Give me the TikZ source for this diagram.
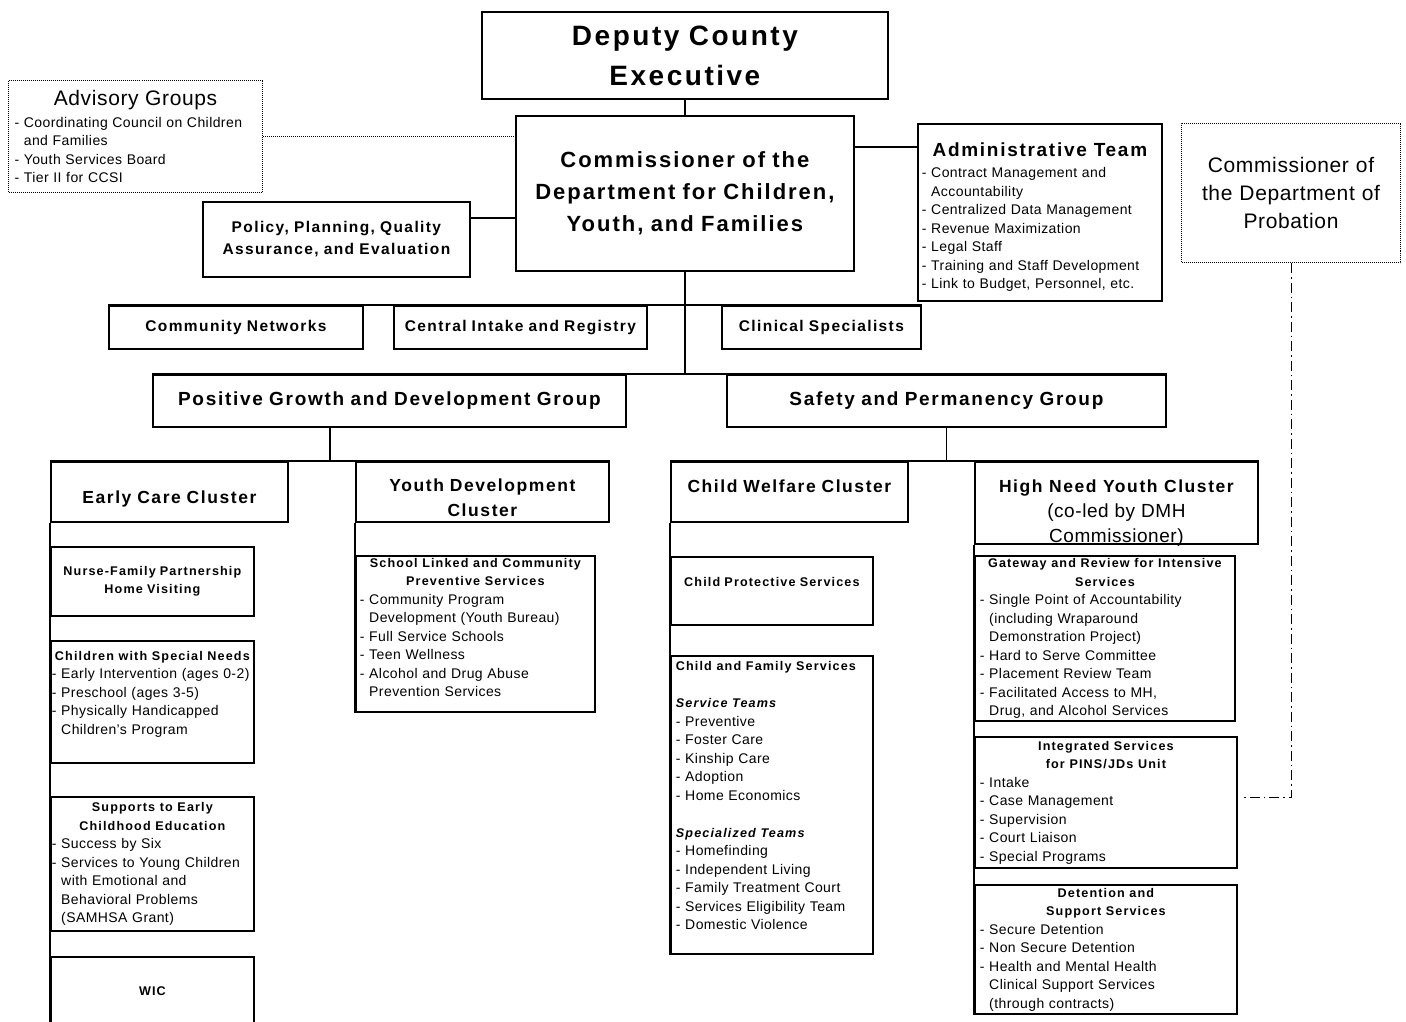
\documentclass[tikz,border=0pt]{standalone}
\usepackage{fontspec}
\setmainfont{Liberation Sans}[LetterSpace=3]
\newfontfamily\heavyfont{Liberation Sans}[LetterSpace=9]
\usetikzlibrary{positioning, calc}

\newcommand{\midline}[1]{\hspace*{\fill}{\spaceskip=0pt #1}\hspace*{\fill}\null}
\newcommand{\cont}{\phantom{- }}
\newcommand{\bodyfont}{\normalfont\fontsize{14}{18.5}\selectfont}
\newcommand{\subttl}{\heavyfont\bfseries\fontsize{12.6}{18.5}\selectfont}

\tikzset{
	unit/.style={draw, line width=1.8pt, anchor=north west, inner xsep=3pt, inner ysep=0pt, align=center, font=\heavyfont\bfseries},
	listunit/.style={unit, align=left, font=\bodyfont},
	advisory/.style={draw, densely dotted, line width=1pt, anchor=north west, inner xsep=6pt, inner ysep=0pt},
	exectitle/.style={font=\heavyfont\bfseries\fontsize{28}{40}\selectfont},
	commtitle/.style={font=\heavyfont\bfseries\fontsize{22}{32}\selectfont},
	midtitle/.style={font=\heavyfont\bfseries\fontsize{15.5}{22}\selectfont},
	grouptitle/.style={font=\heavyfont\bfseries\fontsize{19}{23}\selectfont},
	clustertitle/.style={font=\heavyfont\bfseries\fontsize{17.5}{25}\selectfont},
	subtitle/.style={font=\subttl},
	link/.style={line width=1.5pt},
	dotlink/.style={densely dotted, line width=1pt},
	probationlink/.style={line width=1pt, dash pattern=on 10pt off 4pt on 1.5pt off 4pt},
}

\begin{document}
\begin{tikzpicture}[x=1pt, y=-1pt]
	\useasboundingbox (0,0) rectangle (1406,1022);

	% top of the chart
	\node[unit, exectitle, text width=400pt, minimum height=87pt] (exec) at (481,11) {Deputy County\\Executive};
	\node[unit, commtitle, text width=332pt, minimum height=155pt] (comm) at (515,115) {Commissioner of the\\Department for Children,\\Youth, and Families};
	\node[advisory, align=left, font=\bodyfont, text width=242pt, minimum height=112pt] (adv) at (8,80)
		{\midline{\fontsize{21}{24}\selectfont Advisory Groups}\\[3.5pt]
		- Coordinating Council on Children\\
		\cont and Families\\
		- Youth Services Board\\
		- Tier II for CCSI};
	\node[unit, midtitle, text width=261pt, minimum height=75pt] (policy) at (202,201) {Policy, Planning, Quality\\Assurance, and Evaluation};
	\node[listunit, inner xsep=4pt, text width=236pt, minimum height=177pt, text height=24pt] (admin) at (917,123)
		{\midline{\heavyfont\bfseries\fontsize{19}{23}\selectfont Administrative Team}\\[2.5pt]
		- Contract Management and\\
		\cont Accountability\\
		- Centralized Data Management\\
		- Revenue Maximization\\
		- Legal Staff\\
		- Training and Staff Development\\
		- Link to Budget, Personnel, etc.};
	\node[advisory, align=center, font=\fontsize{21}{28}\selectfont, text width=207pt, minimum height=139pt] (prob) at (1181,123) {Commissioner of\\the Department of\\Probation};

	% staff units and groups
	\node[unit, midtitle, text width=248pt, minimum height=43pt] (cn) at (108,305) {Community Networks};
	\node[unit, midtitle, text width=247pt, minimum height=43pt] (cir) at (393,305) {Central Intake and Registry};
	\node[unit, midtitle, text width=193pt, minimum height=43pt] (cs) at (721,305) {Clinical Specialists};
	\node[unit, grouptitle, text width=467pt, minimum height=52pt] (pgd) at (152,374) {Positive Growth and Development Group};
	\node[unit, grouptitle, text width=433pt, minimum height=52pt] (sp) at (726,374) {Safety and Permanency Group};

	% clusters
	\node[unit, clustertitle, text width=231pt, minimum height=60pt, text height=24pt, text depth=0pt] (ecc) at (50,461) {Early Care Cluster};
	\node[unit, clustertitle, text width=247pt, minimum height=60pt, text height=25pt] (ydc) at (355,461) {Youth Development\\Cluster};
	\node[unit, clustertitle, text width=231pt, minimum height=60pt, text height=12pt, text depth=10pt] (cwc) at (670,461) {Child Welfare Cluster};
	\node[unit, clustertitle, text width=277pt, minimum height=82pt] (hny) at (974,461)
		{\raisebox{10pt}[0pt][0pt]{\parbox[t]{277pt}{\centering\spaceskip=0pt
		{\fontsize{17.5}{24}\selectfont High Need Youth Cluster}\\
		\normalfont\fontsize{19}{25}\selectfont (co-led by DMH\\Commissioner)}}};

	% early care units
	\node[unit, subtitle, text width=197pt, minimum height=69pt] (nfp) at (50,546) {Nurse-Family Partnership\\Home Visiting};
	\node[listunit, inner xsep=1pt, text width=201pt, minimum height=122pt] (cwsn) at (50,640)
		{\midline{\subttl Children with Special Needs}\\
		- Early Intervention (ages 0-2)\\
		- Preschool (ages 3-5)\\
		- Physically Handicapped\\
		\cont Children's Program\\
		~};
	\node[listunit, inner xsep=1pt, text width=201pt, minimum height=134pt] (ssece) at (50,796)
		{\midline{\subttl Supports to Early}\\
		\midline{\subttl Childhood Education}\\
		- Success by Six\\
		- Services to Young Children\\
		\cont with Emotional and\\
		\cont Behavioral Problems\\
		\cont (SAMHSA Grant)};
	\node[unit, subtitle, text width=197pt, minimum height=68pt] (wic) at (50,956) {WIC};

	% youth development units
	\node[listunit, inner xsep=4pt, text width=231pt, minimum height=156pt, text depth=142pt] (slcp) at (355,555)
		{\midline{\subttl School Linked and Community}\\
		\midline{\subttl Preventive Services}\\
		- Community Program\\
		\cont Development (Youth Bureau)\\
		- Full Service Schools\\
		- Teen Wellness\\
		- Alcohol and Drug Abuse\\
		\cont Prevention Services};

	% child welfare units
	\node[unit, subtitle, text width=196pt, minimum height=68pt] (cps) at (670,556) {Child Protective Services\\~};
	\node[listunit, inner xsep=5pt, text width=192pt, minimum height=298pt] (cfs) at (670,655)
		{{\subttl Child and Family Services}\\
		~\\
		{\subttl\itshape Service Teams}\\
		- Preventive\\
		- Foster Care\\
		- Kinship Care\\
		- Adoption\\
		- Home Economics\\
		~\\
		{\subttl\itshape Specialized Teams}\\
		- Homefinding\\
		- Independent Living\\
		- Family Treatment Court\\
		- Services Eligibility Team\\
		- Domestic Violence\\
		~};

	% high need youth units
	\node[listunit, inner xsep=5pt, text width=250pt, minimum height=165pt] (gris) at (974,555)
		{\midline{\subttl Gateway and Review for Intensive}\\
		\midline{\subttl Services}\\
		- Single Point of Accountability\\
		\cont (including Wraparound\\
		\cont Demonstration Project)\\
		- Hard to Serve Committee\\
		- Placement Review Team\\
		- Facilitated Access to MH,\\
		\cont Drug, and Alcohol Services};
	\node[listunit, inner xsep=5pt, text width=252pt, minimum height=131pt] (isp) at (974,736)
		{\midline{\subttl Integrated Services}\\
		\midline{\subttl for PINS/JDs Unit}\\
		- Intake\\
		- Case Management\\
		- Supervision\\
		- Court Liaison\\
		- Special Programs};
	\node[listunit, inner xsep=5pt, text width=252pt, minimum height=129pt] (dss) at (974,884)
		{\midline{\subttl Detention and}\\
		\midline{\subttl Support Services}\\
		- Secure Detention\\
		- Non Secure Detention\\
		- Health and Mental Health\\
		\cont Clinical Support Services\\
		\cont (through contracts)};

	% connectors
	\coordinate (policyjoin) at ([yshift=-17pt]policy.north east);
	\coordinate (adminjoin) at ([yshift=-24pt]admin.north west);
	\coordinate (pgdsplit) at ($(ecc.north west)!0.5!(ydc.north east)$);
	\coordinate (pinsjoin) at (1243,797);
	\draw[link] (exec.south) -- (comm.north);
	\draw[dotlink] (adv.east) -- (adv.east -| comm.west);
	\draw[link] (policyjoin) -- (policyjoin -| comm.west);
	\draw[link] (adminjoin) -- (adminjoin -| comm.east);
	\draw[link] (comm.south) -- (comm.south |- pgd.north);
	\draw[link] (cn.north west) -- (cs.north east);
	\draw[link] (pgd.north west) -- (sp.north east);
	\draw[link] (pgdsplit |- pgd.south) -- (pgdsplit);
	\draw[link] (sp.south) -- (sp.south |- cwc.north);
	\draw[link] (ecc.north west) -- (ydc.north east);
	\draw[link] (cwc.north west) -- (hny.north east);
	\draw[link] (ecc.south west) -- (wic.south west);
	\draw[link] (ydc.south west) -- (slcp.south west);
	\draw[link] (cwc.south west) -- (cfs.south west);
	\draw[link] (hny.south west) -- (dss.south west);
	\draw[probationlink] (prob.south) |- (pinsjoin);
\end{tikzpicture}
\end{document}
